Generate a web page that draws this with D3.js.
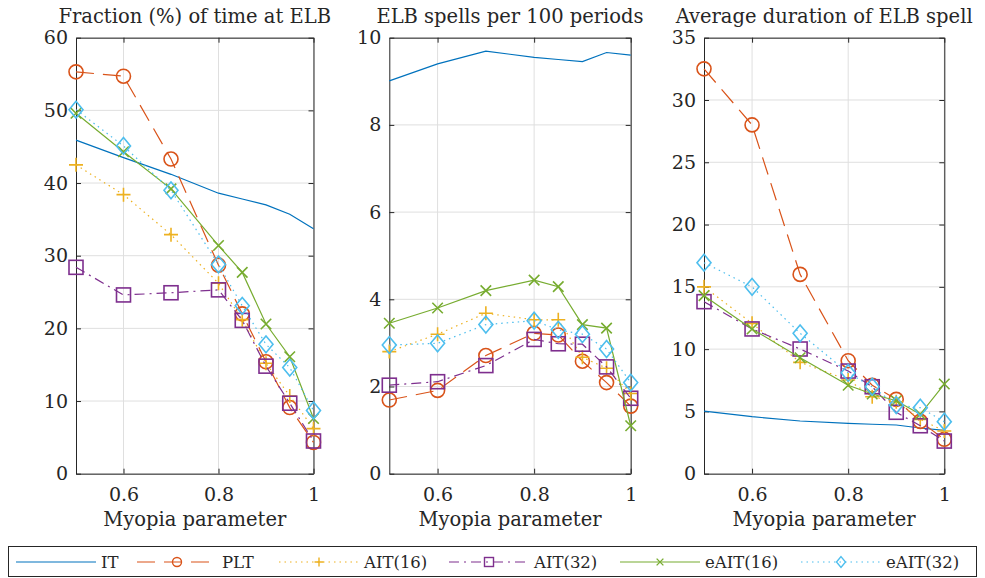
<!DOCTYPE html>
<html>
<head>
<meta charset="utf-8">
<script src="https://cdn.jsdelivr.net/npm/d3@7"></script>
<style>
  body { margin: 0; background: #fff; }
  svg text { font-family: "DejaVu Serif", serif; fill: #262626; }
</style>
</head>
<body>
<script>
var width = 985,
    height = 578;

// myopia parameter grid
var mu = [0.5, 0.6, 0.7, 0.8, 0.85, 0.9, 0.95, 1];

var seriesNames = ["IT", "PLT", "AIT(16)", "AIT(32)", "eAIT(16)", "eAIT(32)"];

// fraction (%) of time at ELB
var fracIT     = [45.9, 43.5, 41.2, 38.6, 37.8, 37.0, 35.7, 33.7];
var fracPLT    = [55.3, 54.7, 43.3, 28.7, 22.0, 15.4, 9.1, 4.3];
var fracAIT16  = [42.5, 38.4, 32.9, 26.2, 21.2, 15.2, 10.7, 6.2];
var fracAIT32  = [28.4, 24.6, 24.9, 25.3, 21.1, 14.8, 9.7, 4.5];
var fracEAIT16 = [49.6, 44.3, 39.2, 31.4, 27.7, 20.6, 16.1, 7.6];
var fracEAIT32 = [50.1, 45.1, 39.0, 28.8, 23.1, 17.8, 14.6, 8.7];

// ELB spells per 100 periods
var spellIT     = [9.01, 9.40, 9.69, 9.55, 9.50, 9.45, 9.66, 9.60];
var spellPLT    = [1.69, 1.91, 2.71, 3.22, 3.18, 2.58, 2.09, 1.55];
var spellAIT16  = [2.80, 3.20, 3.68, 3.53, 3.53, 2.67, 2.42, 1.84];
var spellAIT32  = [2.03, 2.11, 2.48, 3.08, 2.98, 2.97, 2.45, 1.73];
var spellEAIT16 = [3.45, 3.80, 4.20, 4.44, 4.29, 3.42, 3.34, 1.10];
var spellEAIT32 = [2.95, 2.99, 3.42, 3.51, 3.30, 3.20, 2.86, 2.09];

// average duration of ELB spell
var durIT     = [5.03, 4.58, 4.23, 4.04, 3.97, 3.91, 3.67, 3.48];
var durPLT    = [32.5, 28.0, 16.0, 9.07, 7.1, 5.97, 4.2, 2.76];
var durAIT16  = [15.0, 12.07, 8.94, 7.52, 6.18, 5.78, 4.36, 3.43];
var durAIT32  = [13.81, 11.62, 10.01, 8.24, 6.98, 4.93, 3.85, 2.62];
var durEAIT16 = [14.29, 11.62, 9.31, 7.1, 6.4, 5.86, 4.77, 7.2];
var durEAIT32 = [16.94, 15.0, 11.27, 8.1, 6.98, 5.51, 5.3, 4.18];

var xTicks = [0.6, 0.8, 1];

var styles = [
  { color: "#0072BD", dash: null,         marker: null },
  { color: "#D95319", dash: "18,9",       marker: "circle" },
  { color: "#EDB120", dash: "1.5,4",      marker: "plus" },
  { color: "#7E2F8E", dash: "10,5,2,5",   marker: "square" },
  { color: "#77AC30", dash: null,         marker: "cross" },
  { color: "#4DBEEE", dash: "1.5,4",      marker: "diamond" }
];

var panels = [
  { title: "Fraction (%) of time at ELB", left: 76, right: 313.5, ymax: 60, yTicks: d3.range(0, 61, 10),
    series: [fracIT, fracPLT, fracAIT16, fracAIT32, fracEAIT16, fracEAIT32] },
  { title: "ELB spells per 100 periods", left: 389.3, right: 630.7, ymax: 10, yTicks: d3.range(0, 11, 2),
    series: [spellIT, spellPLT, spellAIT16, spellAIT32, spellEAIT16, spellEAIT32] },
  { title: "Average duration of ELB spell", left: 704, right: 944.3, ymax: 35, yTicks: d3.range(0, 36, 5),
    series: [durIT, durPLT, durAIT16, durAIT32, durEAIT16, durEAIT32] }
];

var plotTop = 37.7, plotBottom = 473.7;

var svg = d3.select("body").append("svg")
    .attr("width", width)
    .attr("height", height);

function drawMarker(g, type, color, s) {
  var h = s / 2;
  if (type == "circle") {
    g.append("circle").attr("r", h).attr("fill", "none").attr("stroke", color);
  } else if (type == "square") {
    g.append("rect").attr("x", -h).attr("y", -h).attr("width", s).attr("height", s)
      .attr("fill", "none").attr("stroke", color);
  } else if (type == "diamond") {
    g.append("path").attr("d", "M0," + (-h * 1.2) + "L" + h + ",0L0," + (h * 1.2) + "L" + (-h) + ",0Z")
      .attr("fill", "none").attr("stroke", color);
  } else if (type == "plus") {
    g.append("path").attr("d", "M" + (-h) + ",0H" + h + "M0," + (-h) + "V" + h)
      .attr("fill", "none").attr("stroke", color);
  } else if (type == "cross") {
    var c = h * 0.75;
    g.append("path").attr("d", "M" + (-c) + "," + (-c) + "L" + c + "," + c + "M" + (-c) + "," + c + "L" + c + "," + (-c))
      .attr("fill", "none").attr("stroke", color);
  }
}

panels.forEach(function(p) {
  var x = d3.scaleLinear().domain([0.5, 1]).range([p.left, p.right]);
  var y = d3.scaleLinear().domain([0, p.ymax]).range([plotBottom, plotTop]);
  var g = svg.append("g");

  // grid
  g.selectAll(".gx").data(xTicks).enter().append("line")
      .attr("x1", function(d) { return x(d); }).attr("x2", function(d) { return x(d); })
      .attr("y1", plotTop).attr("y2", plotBottom)
      .attr("stroke", "#dfdfdf").attr("stroke-width", 1);
  g.selectAll(".gy").data(p.yTicks).enter().append("line")
      .attr("y1", function(d) { return y(d); }).attr("y2", function(d) { return y(d); })
      .attr("x1", p.left).attr("x2", p.right)
      .attr("stroke", "#dfdfdf").attr("stroke-width", 1);

  // axes with inward ticks on all sides
  g.append("g").attr("transform", "translate(0," + plotBottom + ")")
      .call(d3.axisBottom(x).tickValues(xTicks).tickSizeInner(-5).tickSizeOuter(0).tickPadding(14)
        .tickFormat(function(d) { return d == 1 ? "1" : d3.format(".1f")(d); }));
  g.append("g").attr("transform", "translate(0," + plotTop + ")")
      .call(d3.axisTop(x).tickValues(xTicks).tickSizeInner(-5).tickSizeOuter(0).tickFormat(""));
  g.append("g").attr("transform", "translate(" + p.left + ",0)")
      .call(d3.axisLeft(y).tickValues(p.yTicks).tickSizeInner(-5).tickSizeOuter(0).tickPadding(8));
  g.append("g").attr("transform", "translate(" + p.right + ",0)")
      .call(d3.axisRight(y).tickValues(p.yTicks).tickSizeInner(-5).tickSizeOuter(0).tickFormat(""));

  g.selectAll(".domain").attr("stroke", "#262626");
  g.selectAll(".tick line").attr("stroke", "#262626");
  g.selectAll(".tick text").attr("font-size", 19).attr("font-family", "DejaVu Serif").attr("fill", "#262626");

  // series
  var line = d3.line()
      .x(function(d, i) { return x(mu[i]); })
      .y(function(d) { return y(d); });

  p.series.forEach(function(vals, si) {
    var st = styles[si];
    g.append("path")
        .attr("d", line(vals))
        .attr("fill", "none")
        .attr("stroke", st.color)
        .attr("stroke-width", 1.2)
        .attr("stroke-dasharray", st.dash);
    if (st.marker) {
      vals.forEach(function(v, i) {
        var m = g.append("g").attr("transform", "translate(" + x(mu[i]) + "," + y(v) + ")")
            .attr("stroke-width", 1.6);
        drawMarker(m, st.marker, st.color, 14);
      });
    }
  });

  // title and x label
  g.append("text")
      .attr("x", (p.left + p.right) / 2).attr("y", 23)
      .attr("text-anchor", "middle")
      .attr("font-size", 19.5)
      .text(p.title);
  g.append("text")
      .attr("x", (p.left + p.right) / 2).attr("y", 526)
      .attr("text-anchor", "middle")
      .attr("font-size", 19.5)
      .text("Myopia parameter");
});

// legend
var legend = svg.append("g");
legend.append("rect")
    .attr("x", 8.5).attr("y", 546.5).attr("width", 968).attr("height", 30)
    .attr("fill", "#fff").attr("stroke", "#262626").attr("stroke-width", 1);

var legX = [16, 137, 279, 449, 620, 801];
seriesNames.forEach(function(name, i) {
  var st = styles[i];
  var lx = legX[i], ly = 562;
  legend.append("line")
      .attr("x1", lx).attr("x2", lx + 80).attr("y1", ly).attr("y2", ly)
      .attr("stroke", st.color).attr("stroke-width", 1.2)
      .attr("stroke-dasharray", st.dash);
  if (st.marker) {
    var m = legend.append("g").attr("transform", "translate(" + (lx + 40) + "," + ly + ")")
        .attr("stroke-width", 1.4);
    drawMarker(m, st.marker, st.color, 9);
  }
  legend.append("text")
      .attr("x", lx + 85).attr("y", ly + 6)
      .attr("font-size", 16.5)
      .text(name);
});
</script>
</body>
</html>
